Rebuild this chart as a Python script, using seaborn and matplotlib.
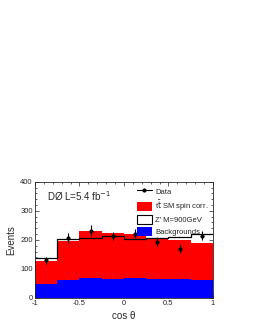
import numpy as np
import pandas as pd
import seaborn as sns
import matplotlib
matplotlib.use("Agg")
import matplotlib.pyplot as plt
from matplotlib.patches import Patch
from matplotlib.lines import Line2D
from matplotlib.ticker import MultipleLocator

# binned cos(theta) distribution, 8 bins on [-1, 1]
centers = [-0.875, -0.625, -0.375, -0.125, 0.125, 0.375, 0.625, 0.875]
sm_total = [129, 197, 231, 223, 221, 206, 200, 191]    # ttbar SM spin corr. + backgrounds
zprime = [137, 202, 206, 213, 202, 206, 211, 220]      # Z' M=900GeV
backgrounds = [48, 62, 70, 66, 69, 66, 64, 63]
data = [130, 206, 232, 213, 220, 194, 170, 214]
data_err = [12, 18, 20, 15, 18, 16, 15, 15]

df = pd.DataFrame({"x": centers, "sm": sm_total, "zp": zprime, "bkg": backgrounds})

sns.set_style("ticks")
plt.rcParams["font.family"] = ["Liberation Sans", "DejaVu Sans"]

fig = plt.figure(figsize=(2.55, 3.30), dpi=100)
ax = fig.add_axes([0.137, 0.097, 0.698, 0.352])

hist_kw = dict(binwidth=0.25, binrange=(-1, 1), element="step", ax=ax)
sns.histplot(data=df, x="x", weights="sm", fill=True, color="#ff0000", alpha=1,
             linewidth=0, **hist_kw)
sns.histplot(data=df, x="x", weights="bkg", fill=True, color="#0000ff", alpha=1,
             linewidth=0, **hist_kw)
sns.histplot(data=df, x="x", weights="zp", fill=False, color="black", linewidth=0.9,
             **hist_kw)
ax.errorbar(centers, data, yerr=data_err, fmt="o", color="black", markersize=2,
            elinewidth=0.8, capsize=0)

ax.set_xlim(-1, 1)
ax.set_ylim(0, 400)
ax.xaxis.set_minor_locator(MultipleLocator(0.1))
ax.yaxis.set_major_locator(MultipleLocator(100))
ax.yaxis.set_minor_locator(MultipleLocator(20))
ax.set_xticks([-1, -0.5, 0, 0.5, 1])
ax.set_xticklabels(["-1", "-0.5", "0", "0.5", "1"])
ax.tick_params(which="both", direction="in", top=True, right=True, labelsize=5.5, pad=1.5)
ax.tick_params(which="major", length=3, width=0.5)
ax.tick_params(which="minor", length=1.5, width=0.5)
for s in ax.spines.values():
    s.set_linewidth(0.6)

ax.set_xlabel("cos θ", fontsize=7, labelpad=3)
ax.set_ylabel("Events", fontsize=7, labelpad=3)

ax.text(0.07, 0.88, "DØ L=5.4 fb$^{-1}$", transform=ax.transAxes, fontsize=7,
        va="center", ha="left")

handles = [
    Line2D([0], [0], color="black", marker="o", markersize=2, linewidth=0.8),
    Patch(facecolor="#ff0000", edgecolor="none"),
    Patch(facecolor="white", edgecolor="black", linewidth=0.8),
    Patch(facecolor="#0000ff", edgecolor="none"),
]
labels = ["Data", r"t$\bar{\rm t}$ SM spin corr.", "Z' M=900GeV", "Backgrounds"]
ax.legend(handles, labels, loc="upper right", bbox_to_anchor=(1.0, 1.0), frameon=False,
          fontsize=5.5, handlelength=2.0, handleheight=1.5, labelspacing=0.3,
          handletextpad=0.4, borderaxespad=0.2)

fig.savefig("out.png", dpi=100)
